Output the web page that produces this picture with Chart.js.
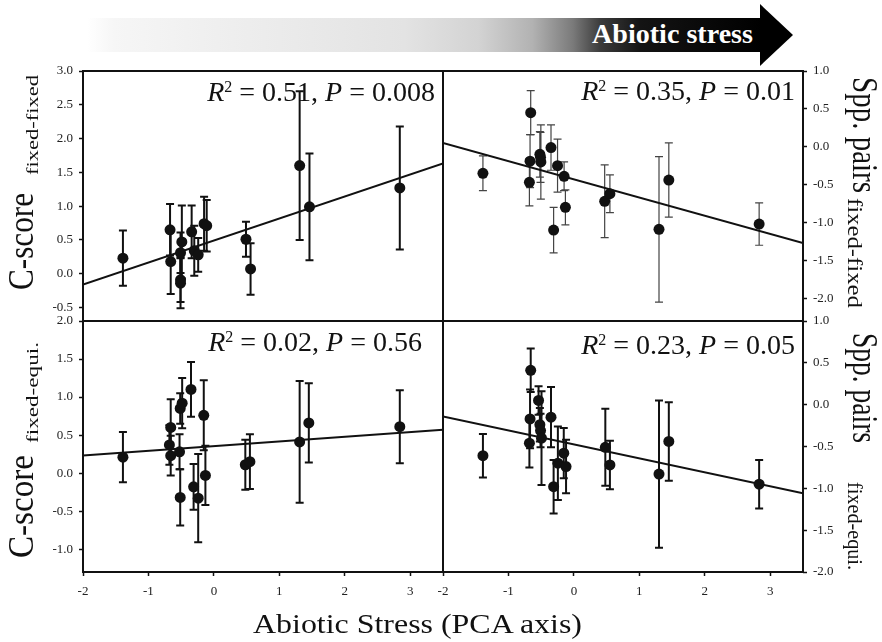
<!DOCTYPE html>
<html>
<head>
<meta charset="utf-8">
<title>Abiotic stress and co-occurrence</title>
<script src="https://cdn.jsdelivr.net/npm/chart.js@4.4.1/dist/chart.umd.min.js"></script>
<style>
  html, body { margin: 0; padding: 0; background: #fff; }
  body { position: relative; width: 882px; height: 642px; overflow: hidden; font-family: "Liberation Serif", "Times New Roman", serif; }
  canvas { position: absolute; left: 0; top: 0; }
  svg { position: absolute; left: 0; top: 0; }
  svg text { font-family: "Liberation Serif", "Times New Roman", serif; fill: #111; }
</style>
</head>
<body>
<svg id="arrow" width="882" height="72">
  <defs>
    <linearGradient id="fade" gradientUnits="userSpaceOnUse" x1="87" y1="0" x2="762" y2="0">
      <stop offset="0" stop-color="#ffffff"/>
      <stop offset="0.04" stop-color="#f6f6f6"/>
      <stop offset="0.17" stop-color="#f0f0f0"/>
      <stop offset="0.47" stop-color="#e3e3e3"/>
      <stop offset="0.58" stop-color="#d3d3d3"/>
      <stop offset="0.66" stop-color="#b2b2b2"/>
      <stop offset="0.72" stop-color="#7a7a7a"/>
      <stop offset="0.76" stop-color="#3c3c3c"/>
      <stop offset="0.82" stop-color="#141414"/>
      <stop offset="1" stop-color="#000"/>
    </linearGradient>
  </defs>
  <rect x="87" y="18" width="675" height="34" fill="url(#fade)"/>
  <polygon points="760,4 793,35 760,66" fill="#000"/>
  <text x="592" y="43" font-size="27" font-weight="bold" textLength="161" lengthAdjust="spacingAndGlyphs" style="fill:#fff">Abiotic stress</text>
</svg>
<canvas id="tl" width="882" height="642"></canvas>
<canvas id="tr" width="882" height="642"></canvas>
<canvas id="bl" width="882" height="642"></canvas>
<canvas id="br" width="882" height="642"></canvas>
<svg id="labels" width="882" height="642">
  <!-- left axis titles -->
  <text transform="translate(33,290) rotate(-90)" font-size="36" textLength="97" lengthAdjust="spacingAndGlyphs">C-score</text>
  <text transform="translate(38,175) rotate(-90)" font-size="17" textLength="100" lengthAdjust="spacingAndGlyphs">fixed-fixed</text>
  <text transform="translate(33,558) rotate(-90)" font-size="36" textLength="103" lengthAdjust="spacingAndGlyphs">C-score</text>
  <text transform="translate(38,443) rotate(-90)" font-size="17" textLength="101" lengthAdjust="spacingAndGlyphs">fixed-equi.</text>
  <!-- right axis titles -->
  <text transform="translate(853,77) rotate(90)" font-size="36" textLength="116" lengthAdjust="spacingAndGlyphs">Spp. pairs</text>
  <text transform="translate(848,198) rotate(90)" font-size="20" textLength="110" lengthAdjust="spacingAndGlyphs">fixed-fixed</text>
  <text transform="translate(853,333) rotate(90)" font-size="36" textLength="110" lengthAdjust="spacingAndGlyphs">Spp. pairs</text>
  <text transform="translate(848,482) rotate(90)" font-size="20" textLength="88" lengthAdjust="spacingAndGlyphs">fixed-equi.</text>
  <!-- bottom title -->
  <text x="253" y="633" font-size="27" textLength="329" lengthAdjust="spacingAndGlyphs">Abiotic Stress (PCA axis)</text>
  <!-- fit statistics -->
  <text x="435" y="101" font-size="28" text-anchor="end"><tspan font-style="italic">R</tspan><tspan font-size="16" dy="-9">2</tspan><tspan dy="9"> = 0.51, </tspan><tspan font-style="italic">P</tspan><tspan> = 0.008</tspan></text>
  <text x="795" y="100" font-size="28" text-anchor="end"><tspan font-style="italic">R</tspan><tspan font-size="16" dy="-9">2</tspan><tspan dy="9"> = 0.35, </tspan><tspan font-style="italic">P</tspan><tspan> = 0.01</tspan></text>
  <text x="422" y="351" font-size="28" text-anchor="end"><tspan font-style="italic">R</tspan><tspan font-size="16" dy="-9">2</tspan><tspan dy="9"> = 0.02, </tspan><tspan font-style="italic">P</tspan><tspan> = 0.56</tspan></text>
  <text x="795" y="354" font-size="28" text-anchor="end"><tspan font-style="italic">R</tspan><tspan font-size="16" dy="-9">2</tspan><tspan dy="9"> = 0.23, </tspan><tspan font-style="italic">P</tspan><tspan> = 0.05</tspan></text>
</svg>
<script>
const xMin = -2;
const xMax = 3.5;

// C-score fixed-fixed (upper left)
const csFixedX = [-1.39, -0.67, -0.66, -0.51, -0.51, -0.51, -0.49, -0.34, -0.30, -0.24, -0.15, -0.11, 0.49, 0.56, 1.31, 1.46, 2.84];
const csFixedY = [0.23, 0.65, 0.18, -0.09, -0.14, 0.31, 0.47, 0.62, 0.34, 0.28, 0.74, 0.71, 0.51, 0.07, 1.60, 0.99, 1.27];
const csFixedErr = [0.41, 0.38, 0.48, 0.33, 0.37, 0.30, 0.54, 0.39, 0.37, 0.25, 0.40, 0.38, 0.26, 0.38, 1.10, 0.79, 0.91];
const csFixedFit = [-0.16, 1.63];

// Spp. pairs fixed-fixed (upper right)
const sppFixedX = [-1.39, -0.66, -0.67, -0.68, -0.52, -0.51, -0.505, -0.35, -0.31, -0.25, -0.15, -0.13, 0.47, 0.55, 1.30, 1.45, 2.83];
const sppFixedY = [-0.35, 0.45, -0.19, -0.47, -0.10, -0.14, -0.20, -0.01, -1.10, -0.25, -0.39, -0.80, -0.72, -0.62, -1.09, -0.44, -1.02];
const sppFixedErr = [0.23, 0.29, 0.35, 0.31, 0.30, 0.33, 0.49, 0.30, 0.30, 0.35, 0.19, 0.23, 0.48, 0.25, 0.96, 0.49, 0.28];
const sppFixedFit = [0.05, -1.27];

// C-score fixed-equi. (lower left)
const csEquiX = [-1.39, -0.66, -0.68, -0.66, -0.525, -0.515, -0.485, -0.515, -0.35, -0.31, -0.24, -0.155, -0.13, 0.48, 0.55, 1.31, 1.45, 2.84];
const csEquiY = [0.21, 0.60, 0.37, 0.23, 0.28, 0.85, 0.92, -0.32, 1.10, -0.18, -0.33, 0.76, -0.03, 0.11, 0.15, 0.41, 0.66, 0.61];
const csEquiErr = [0.33, 0.37, 0.26, 0.26, 0.23, 0.20, 0.33, 0.37, 0.36, 0.30, 0.58, 0.46, 0.39, 0.33, 0.36, 0.80, 0.52, 0.48];
const csEquiFit = [0.23, 0.57];

// Spp. pairs fixed-equi. (lower right)
const sppEquiX = [-1.39, -0.66, -0.67, -0.68, -0.54, -0.52, -0.51, -0.495, -0.35, -0.31, -0.245, -0.155, -0.12, 0.48, 0.55, 1.30, 1.45, 2.83];
const sppEquiY = [-0.61, 0.41, -0.17, -0.46, 0.05, -0.24, -0.31, -0.40, -0.15, -0.98, -0.70, -0.58, -0.74, -0.51, -0.72, -0.83, -0.44, -0.95];
const sppEquiErr = [0.26, 0.26, 0.35, 0.29, 0.17, 0.20, 0.20, 0.56, 0.36, 0.32, 0.44, 0.30, 0.32, 0.46, 0.29, 0.88, 0.47, 0.29];
const sppEquiFit = [-0.14, -1.06];

const W = 882, H = 642;
const tickFont = { family: '"Liberation Serif", "Times New Roman", serif', size: 13 };

// error bars with caps, drawn under the points
const errorBars = {
    id: 'errorBars',
    beforeDatasetsDraw(chart) {
        const ctx = chart.ctx;
        const xs = chart.scales.x, ys = chart.scales.y;
        chart.data.datasets.forEach(ds => {
            if (!ds.errors) return;
            ctx.save();
            ctx.strokeStyle = ds.errColor;
            ctx.lineWidth = ds.errWidth;
            ds.data.forEach((p, i) => {
                const px = xs.getPixelForValue(p.x);
                const top = ys.getPixelForValue(p.y + ds.errors[i]);
                const bot = ys.getPixelForValue(p.y - ds.errors[i]);
                ctx.beginPath();
                ctx.moveTo(px, top); ctx.lineTo(px, bot);
                ctx.moveTo(px - 4, top); ctx.lineTo(px + 4, top);
                ctx.moveTo(px - 4, bot); ctx.lineTo(px + 4, bot);
                ctx.stroke();
            });
            ctx.restore();
        });
    }
};

// box around each panel
const frame = {
    id: 'frame',
    afterDraw(chart) {
        const { ctx, chartArea: a } = chart;
        ctx.save();
        ctx.strokeStyle = '#111';
        ctx.lineWidth = 2;
        ctx.strokeRect(a.left, a.top, a.right - a.left, a.bottom - a.top);
        ctx.restore();
    }
};

function makePanel(id, o) {
    const yW = 40, xH = 30;
    const onRight = o.yPos === 'right';
    const padding = {
        top: o.area.top,
        left: onRight ? o.area.left : o.area.left - yW,
        right: onRight ? W - o.area.right - yW : W - o.area.right,
        bottom: o.showX ? H - o.area.bottom - xH : H - o.area.bottom
    };

    return new Chart(document.getElementById(id), {
        type: 'scatter',
        data: {
            datasets: [
                {
                    data: o.x.map((x, i) => ({ x: x, y: o.y[i] })),
                    errors: o.err,
                    errColor: o.errColor,
                    errWidth: o.errWidth,
                    pointRadius: 5.5,
                    backgroundColor: '#111',
                    borderColor: '#111',
                    pointBorderWidth: 0
                },
                {
                    type: 'line',
                    data: [{ x: xMin, y: o.fit[0] }, { x: xMax, y: o.fit[1] }],
                    borderColor: '#111',
                    borderWidth: 2,
                    pointRadius: 0,
                    fill: false
                }
            ]
        },
        options: {
            responsive: false,
            animation: false,
            devicePixelRatio: 1,
            layout: { padding: padding },
            plugins: { legend: { display: false }, tooltip: { enabled: false } },
            scales: {
                x: {
                    type: 'linear',
                    min: xMin,
                    max: xMax,
                    display: o.showX,
                    border: { display: false },
                    grid: { drawOnChartArea: false, tickLength: 4, tickColor: '#111', tickWidth: 1.5 },
                    ticks: {
                        stepSize: 1, includeBounds: false, maxRotation: 0, autoSkip: false,
                        padding: 8, color: '#222', font: tickFont,
                        callback: v => v.toString()
                    },
                    afterFit: s => { if (o.showX) s.height = xH; }
                },
                y: {
                    position: onRight ? 'right' : 'left',
                    min: o.yMin,
                    max: o.yMax,
                    border: { display: false },
                    grid: { drawOnChartArea: false, tickLength: 4, tickColor: '#111', tickWidth: 1.5 },
                    ticks: {
                        stepSize: 0.5, includeBounds: false, autoSkip: false,
                        padding: 6, color: '#222', font: tickFont,
                        callback: v => v.toFixed(1)
                    },
                    afterFit: s => { s.width = yW; }
                }
            }
        },
        plugins: [errorBars, frame]
    });
}

makePanel('tl', {
    area: { left: 83, top: 71, right: 443, bottom: 321 },
    yPos: 'left', yMin: -0.7, yMax: 3.0, showX: false,
    x: csFixedX, y: csFixedY, err: csFixedErr, fit: csFixedFit,
    errColor: '#111', errWidth: 2
});

makePanel('tr', {
    area: { left: 443, top: 71, right: 803, bottom: 321 },
    yPos: 'right', yMin: -2.3, yMax: 1.0, showX: false,
    x: sppFixedX, y: sppFixedY, err: sppFixedErr, fit: sppFixedFit,
    errColor: '#444', errWidth: 1.2
});

makePanel('bl', {
    area: { left: 83, top: 321, right: 443, bottom: 572 },
    yPos: 'left', yMin: -1.3, yMax: 2.0, showX: true,
    x: csEquiX, y: csEquiY, err: csEquiErr, fit: csEquiFit,
    errColor: '#111', errWidth: 2
});

makePanel('br', {
    area: { left: 443, top: 321, right: 803, bottom: 572 },
    yPos: 'right', yMin: -2.0, yMax: 1.0, showX: true,
    x: sppEquiX, y: sppEquiY, err: sppEquiErr, fit: sppEquiFit,
    errColor: '#111', errWidth: 2
});
</script>
</body>
</html>
